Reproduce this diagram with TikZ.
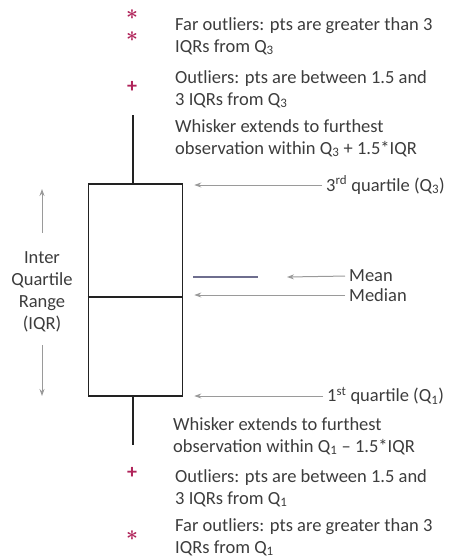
\documentclass[tikz,border=0pt]{standalone}
\usepackage{fontspec}
\setmainfont{Carlito}
\usepackage{tikz}
\usetikzlibrary{arrows.meta, positioning}
\definecolor{boxblack}{HTML}{222222}
\definecolor{textgray}{HTML}{3C3C3C}
\definecolor{arrowgray}{HTML}{9A9A9A}
\definecolor{meanpurple}{HTML}{6E6E8E}
\definecolor{outlierred}{HTML}{B0245A}
\tikzstyle{note} = [anchor=west, align=left, inner sep=1pt, text=textgray, font=\fontsize{18.5}{22}\selectfont]
\tikzstyle{arrow} = [->, >={Stealth[length=7pt, width=5pt]}, color=arrowgray, line width=1pt]
\tikzstyle{boxline} = [draw=boxblack, line width=1.6pt]
\tikzstyle{whisker} = [draw=boxblack, line width=2pt]
\tikzstyle{outlier} = [text=outlierred, inner sep=0pt, font=\fontsize{20}{20}\selectfont\bfseries\boldmath]
\begin{document}
\begin{tikzpicture}[x=1pt, y=-1pt]
    \useasboundingbox (0,0) rectangle (448,560);

    % Box
    \node[boxline, minimum width=94pt, minimum height=212pt, inner sep=0pt] (box) at (135.5,290) {};
    \coordinate (med) at (0,297);
    \draw[boxline] (box.west |- med) -- (box.east |- med);

    % Whiskers
    \coordinate (wtop) at (133,115);
    \coordinate (wbot) at (133,445);
    \draw[whisker] (wtop) -- (wtop |- box.north);
    \draw[whisker] (wbot |- box.south) -- (wbot);

    % Outliers
    \node[outlier] (far1) at (132,15) {$\ast$};
    \node[outlier] (far2) at (132,37) {$\ast$};
    \node[outlier] (out1) at (132,87) {+};
    \node[outlier] (out2) at (132,473) {+};
    \node[outlier] (far3) at (132,536) {$\ast$};

    % Notes
    \node[note] (farup) at (174,36) {Far outliers: pts are greater than 3\\IQRs from Q\textsubscript{3}};
    \node[note] (outup) at (174,89) {Outliers: pts are between 1.5 and\\3 IQRs from Q\textsubscript{3}};
    \node[note] (whiskup) at (174,138) {Whisker extends to furthest\\observation within Q\textsubscript{3} + 1.5*IQR};
    \node[note] (whiskdown) at (172,436) {Whisker extends to furthest\\observation within Q\textsubscript{1} -- 1.5*IQR};
    \node[note] (outdown) at (174,488) {Outliers: pts are between 1.5 and\\3 IQRs from Q\textsubscript{1}};
    \node[note] (fardown) at (174,537) {Far outliers: pts are greater than 3\\IQRs from Q\textsubscript{1}};

    % Quartiles, mean and median
    \node[note] (q3lab) at (325,185) {3\textsuperscript{rd} quartile (Q\textsubscript{3})};
    \node[note] (q1lab) at (326,396) {1\textsuperscript{st} quartile (Q\textsubscript{1})};
    \node[note] (meanlab) at (348,276) {Mean};
    \node[note] (medlab) at (348,295) {Median};
    \coordinate (meanl) at (193,277);
    \coordinate (meanr) at (258,277);
    \draw[meanpurple, line width=1.3pt] (meanl) -- (meanr);

    \draw[arrow, shorten <=3pt, shorten >=11pt] (q3lab.west) -- (q3lab.west -| box.east);
    \draw[arrow, shorten <=3pt, shorten >=11pt] (q1lab.west) -- (q1lab.west -| box.east);
    \draw[arrow, shorten <=3pt, shorten >=11pt] (medlab.west) -- (medlab.west -| box.east);
    \draw[arrow, shorten <=3pt] (meanlab.west) -- ([xshift=29pt]meanr);

    % IQR
    \node[note, anchor=center, align=center] (iqr) at (42,292) {Inter\\Quartile\\Range\\(IQR)};
    \coordinate (iqrtop) at (42,189);
    \coordinate (iqrbot) at (42,396);
    \draw[arrow, shorten <=18pt] (iqr.north) -- (iqrtop);
    \draw[arrow, shorten <=12pt] (iqr.south) -- (iqrbot);
\end{tikzpicture}
\end{document}
